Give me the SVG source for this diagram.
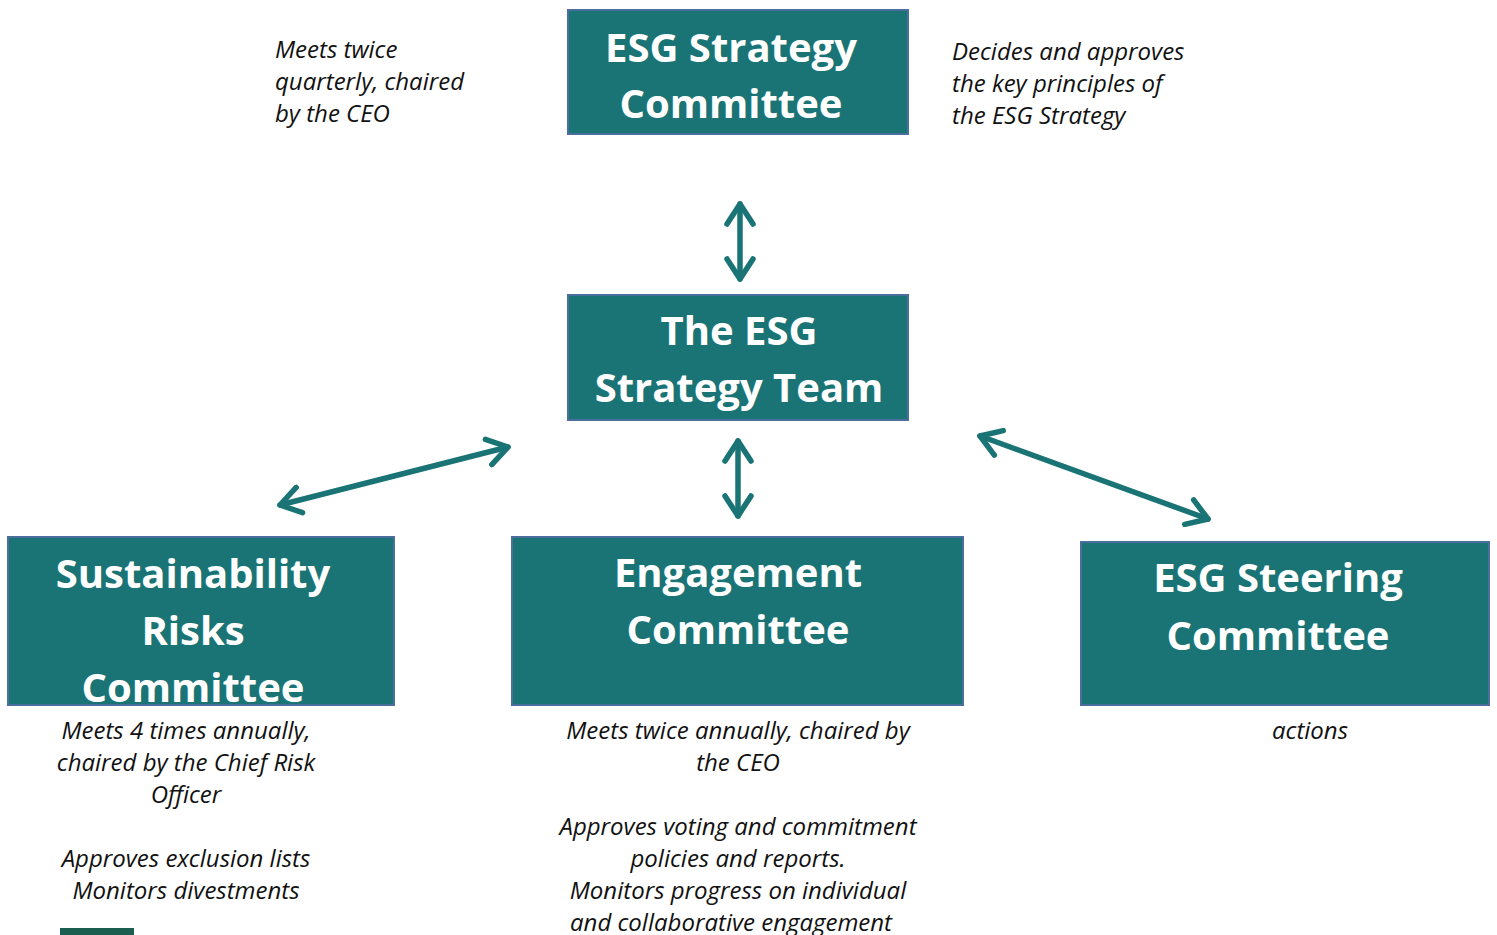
<svg xmlns="http://www.w3.org/2000/svg" width="1497" height="935" viewBox="0 0 1497 935">
<style>
.box{fill:#1a7475;stroke:#4a6f9c;stroke-width:2}
.t{font-family:"Open Sans","Liberation Sans",sans-serif;font-weight:bold;font-size:40px;fill:#fff;text-anchor:middle}
.n{font-family:"Open Sans","Liberation Sans",sans-serif;font-style:italic;font-size:24px;fill:#111}
.c{text-anchor:middle}
.ar{stroke:#1a7475;stroke-width:5.5;fill:none;stroke-linecap:round}
</style>
<defs>
<marker id="h" viewBox="-24 -16 27 32" refX="0" refY="0" markerWidth="27" markerHeight="32" markerUnits="userSpaceOnUse" orient="auto-start-reverse">
<polyline points="-20,-13 0,0 -20,13" fill="none" stroke="#1a7475" stroke-width="5.5" stroke-linecap="round" stroke-linejoin="round"/>
</marker>
</defs>
<rect width="1497" height="935" fill="#fff"/>
<g id="strategy-committee">
<rect class="box" x="568" y="10" width="340" height="124"/>
<text class="t" x="731" y="62">ESG Strategy</text>
<text class="t" x="731" y="118">Committee</text>
</g>
<g id="strategy-team">
<rect class="box" x="568" y="295" width="340" height="125"/>
<text class="t" x="739" y="345">The ESG</text>
<text class="t" x="739" y="402">Strategy Team</text>
</g>
<g id="risks-committee">
<rect class="box" x="8" y="537" width="386" height="168"/>
<text class="t" x="193" y="588">Sustainability</text>
<text class="t" x="193" y="645">Risks</text>
<text class="t" x="193" y="702">Committee</text>
</g>
<g id="engagement-committee">
<rect class="box" x="512" y="537" width="451" height="168"/>
<text class="t" x="738" y="587">Engagement</text>
<text class="t" x="738" y="644">Committee</text>
</g>
<g id="steering-committee">
<rect class="box" x="1081" y="542" width="408" height="163"/>
<text class="t" x="1278" y="592">ESG Steering</text>
<text class="t" x="1278" y="650">Committee</text>
</g>
<g id="connectors">
<line class="ar" x1="740" y1="204" x2="740" y2="279" marker-start="url(#h)" marker-end="url(#h)"/>
<line class="ar" x1="738" y1="441" x2="738" y2="516" marker-start="url(#h)" marker-end="url(#h)"/>
<line class="ar" x1="280" y1="505" x2="508" y2="447" marker-start="url(#h)" marker-end="url(#h)"/>
<line class="ar" x1="980" y1="436" x2="1208" y2="519" marker-start="url(#h)" marker-end="url(#h)"/>
</g>
<g id="notes">
<text class="n" x="275" y="58">Meets twice</text>
<text class="n" x="275" y="90">quarterly, chaired</text>
<text class="n" x="275" y="122">by the CEO</text>
<text class="n" x="952" y="60">Decides and approves</text>
<text class="n" x="952" y="92">the key principles of</text>
<text class="n" x="952" y="124">the ESG Strategy</text>
<text class="n c" x="186" y="739">Meets 4 times annually,</text>
<text class="n c" x="186" y="771">chaired by the Chief Risk</text>
<text class="n c" x="186" y="803">Officer</text>
<text class="n c" x="186" y="867">Approves exclusion lists</text>
<text class="n c" x="186" y="899">Monitors divestments</text>
<text class="n c" x="738" y="739">Meets twice annually, chaired by</text>
<text class="n c" x="738" y="771">the CEO</text>
<text class="n c" x="738" y="835">Approves voting and commitment</text>
<text class="n c" x="738" y="867">policies and reports.</text>
<text class="n c" x="738" y="899">Monitors progress on individual</text>
<text class="n c" x="731" y="931">and collaborative engagement</text>
<text class="n c" x="1310" y="739">actions</text>
</g>
<rect x="60" y="928" width="74" height="7" fill="#1a5e50"/>
</svg>
